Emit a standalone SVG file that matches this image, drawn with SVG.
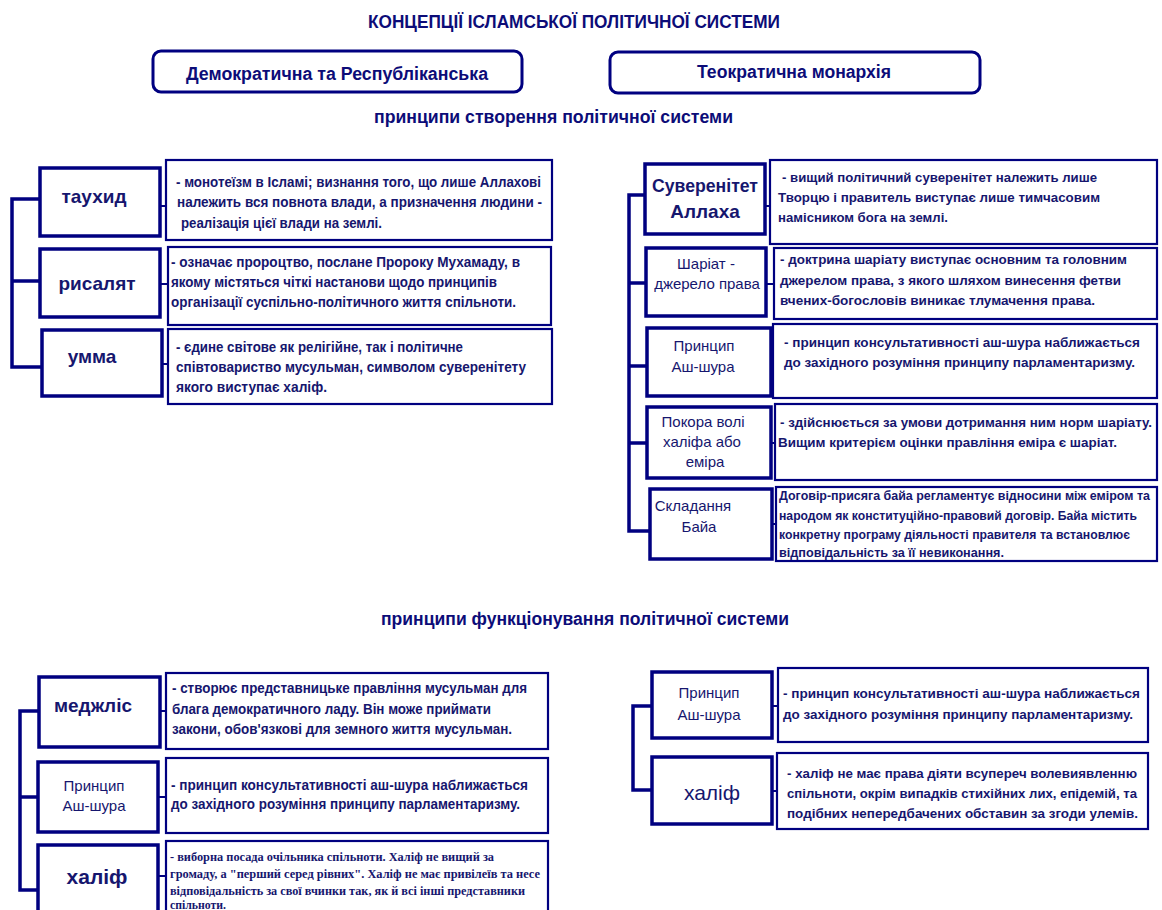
<svg xmlns="http://www.w3.org/2000/svg" width="1162" height="910" viewBox="0 0 1162 910">
<style>
text{font-family:"Liberation Sans",Arial,sans-serif;fill:#16166e;font-weight:bold}
.h{font-size:18px;fill:#0c0c78}
.lab{fill:#fff;stroke:#000080;stroke-width:3.5}
.desc{fill:#fff;stroke:#000080;stroke-width:2.2}
.top{fill:#fff;stroke:#000080;stroke-width:3}
.d{font-size:14.5px}
.dr{font-size:13.6px}
.ds{font-size:12.4px}
.dn{font-size:12px;font-family:"Liberation Serif","DejaVu Serif",serif}
.lb{font-size:19px;text-anchor:middle}
.ln{font-size:15px;font-weight:normal;text-anchor:middle}
.con{stroke:#000080;stroke-width:3.5;fill:none}
.stub{stroke:#000080;stroke-width:2;fill:none}
</style>
<rect width="1162" height="910" fill="#fff"/>

<g id="titles">
<text class="h" x="368" y="28" textLength="412" lengthAdjust="spacingAndGlyphs">КОНЦЕПЦІЇ ІСЛАМСЬКОЇ ПОЛІТИЧНОЇ СИСТЕМИ</text>
<text class="h" x="374" y="123" textLength="359" lengthAdjust="spacingAndGlyphs">принципи створення політичної системи</text>
<text class="h" x="381" y="625" textLength="408" lengthAdjust="spacingAndGlyphs">принципи функціонування політичної системи</text>
</g>

<g id="concept-democratic">
<rect class="top" x="153" y="51" width="369" height="41" rx="8"/>
<text class="h" x="186" y="80" textLength="302" lengthAdjust="spacingAndGlyphs">Демократична та Республіканська</text>
</g>
<g id="concept-theocratic">
<rect class="top" x="610" y="52" width="370" height="41" rx="8"/>
<text class="h" x="697" y="78" textLength="194" lengthAdjust="spacingAndGlyphs">Теократична монархія</text>
</g>

<g id="connectors">
<path class="con" d="M40 199H12V367H42M12 281H40"/>
<path class="con" d="M645 195H629V531H650M629 283H646M629 366H647M629 443H647"/>
<path class="con" d="M39 711H20V890H38M20 797H38"/>
<path class="con" d="M652 706H633V790H652"/>
<path class="stub" d="M160 206H166M160 284H168M162 364H168M764 206H770M766 284H774M771 362H773M771 443H775M772 524H776M160 711H166M158 797H166M158 876H166M771 706H778M771 791H777"/>
</g>

<g id="n-tauhid">
<rect class="lab" x="40" y="168" width="120" height="68"/>
<text class="lb" x="94" y="203">таухид</text>
</g>
<g id="d-tauhid">
<rect class="desc" x="166" y="160" width="386" height="80"/>
<text class="d" x="176" y="187" textLength="365" lengthAdjust="spacingAndGlyphs">- монотеїзм в Ісламі; визнання того, що лише Аллахові</text>
<text class="d" x="177" y="207" textLength="365" lengthAdjust="spacingAndGlyphs">належить вся повнота влади, а призначення людини -</text>
<text class="d" x="181" y="228" textLength="201" lengthAdjust="spacingAndGlyphs">реалізація цієї влади на землі.</text>
</g>

<g id="n-risalyat">
<rect class="lab" x="40" y="249" width="120" height="68"/>
<text class="lb" x="97" y="290">рисалят</text>
</g>
<g id="d-risalyat">
<rect class="desc" x="168" y="247" width="383" height="78"/>
<text class="d" x="171" y="267" textLength="349" lengthAdjust="spacingAndGlyphs">- означає пророцтво, послане Пророку Мухамаду, в</text>
<text class="d" x="171" y="287" textLength="326" lengthAdjust="spacingAndGlyphs">якому містяться чіткі настанови щодо принципів</text>
<text class="d" x="171" y="307" textLength="345" lengthAdjust="spacingAndGlyphs">організації суспільно-політичного життя спільноти.</text>
</g>

<g id="n-umma">
<rect class="lab" x="42" y="330" width="120" height="66"/>
<text class="lb" x="92" y="363">умма</text>
</g>
<g id="d-umma">
<rect class="desc" x="168" y="329" width="384" height="75"/>
<text class="d" x="176" y="352" textLength="287" lengthAdjust="spacingAndGlyphs">- єдине світове як релігійне, так і політичне</text>
<text class="d" x="176" y="372" textLength="350" lengthAdjust="spacingAndGlyphs">співтовариство мусульман, символом суверенітету</text>
<text class="d" x="176" y="392" textLength="151" lengthAdjust="spacingAndGlyphs">якого виступає халіф.</text>
</g>

<g id="n-sovereignty">
<rect class="lab" x="645" y="164" width="120" height="70"/>
<text class="lb" x="705" y="192" textLength="106" lengthAdjust="spacingAndGlyphs">Суверенітет</text>
<text class="lb" x="705" y="218">Аллаха</text>
</g>
<g id="d-sovereignty">
<rect class="desc" x="770" y="160" width="387" height="84"/>
<text class="dr" x="782" y="182" textLength="315" lengthAdjust="spacingAndGlyphs">- вищий політичний суверенітет належить лише</text>
<text class="dr" x="778" y="202" textLength="322" lengthAdjust="spacingAndGlyphs">Творцю і правитель виступає лише тимчасовим</text>
<text class="dr" x="778" y="222" textLength="170" lengthAdjust="spacingAndGlyphs">намісником бога на землі.</text>
</g>

<g id="n-sharia">
<rect class="lab" x="646" y="248" width="120" height="68"/>
<text class="ln" x="706" y="269">Шаріат -</text>
<text class="ln" x="707" y="289">джерело права</text>
</g>
<g id="d-sharia">
<rect class="desc" x="774" y="248" width="383" height="71"/>
<text class="dr" x="780" y="264" textLength="347" lengthAdjust="spacingAndGlyphs">- доктрина шаріату виступає основним та головним</text>
<text class="dr" x="780" y="285" textLength="341" lengthAdjust="spacingAndGlyphs">джерелом права, з якого шляхом винесення фетви</text>
<text class="dr" x="780" y="305" textLength="315" lengthAdjust="spacingAndGlyphs">вчених-богословів виникає тлумачення права.</text>
</g>

<g id="n-shura-top">
<rect class="lab" x="647" y="328" width="124" height="68"/>
<text class="ln" x="704" y="351">Принцип</text>
<text class="ln" x="703" y="372">Аш-шура</text>
</g>
<g id="d-shura-top">
<rect class="desc" x="773" y="324" width="384" height="74"/>
<text class="dr" x="784" y="347" textLength="356" lengthAdjust="spacingAndGlyphs">- принцип консультативності аш-шура наближається</text>
<text class="dr" x="784" y="367" textLength="351" lengthAdjust="spacingAndGlyphs">до західного розуміння принципу парламентаризму.</text>
</g>

<g id="n-obedience">
<rect class="lab" x="647" y="407" width="124" height="71"/>
<text class="ln" x="703" y="427">Покора волі</text>
<text class="ln" x="702" y="447">халіфа або</text>
<text class="ln" x="705" y="467">еміра</text>
</g>
<g id="d-obedience">
<rect class="desc" x="775" y="404" width="382" height="76"/>
<text class="dr" x="780" y="427" textLength="372" lengthAdjust="spacingAndGlyphs">- здійснюється за умови дотримання ним норм шаріату.</text>
<text class="dr" x="778" y="447" textLength="339" lengthAdjust="spacingAndGlyphs">Вищим критерієм оцінки правління еміра є шаріат.</text>
</g>

<g id="n-baya">
<rect class="lab" x="650" y="489" width="122" height="70"/>
<text class="ln" x="693" y="511">Складання</text>
<text class="ln" x="699" y="532">Байа</text>
</g>
<g id="d-baya">
<rect class="desc" x="776" y="487" width="381" height="74"/>
<text class="ds" x="779" y="500" textLength="371" lengthAdjust="spacingAndGlyphs">Договір-присяга байа регламентує відносини між еміром та</text>
<text class="ds" x="779" y="520" textLength="358" lengthAdjust="spacingAndGlyphs">народом як конституційно-правовий договір. Байа містить</text>
<text class="ds" x="779" y="539" textLength="351" lengthAdjust="spacingAndGlyphs">конкретну програму діяльності правителя та встановлює</text>
<text class="ds" x="779" y="557" textLength="225" lengthAdjust="spacingAndGlyphs">відповідальність за її невиконання.</text>
</g>

<g id="n-majlis">
<rect class="lab" x="39" y="677" width="121" height="70"/>
<text class="lb" x="93" y="712">меджліс</text>
</g>
<g id="d-majlis">
<rect class="desc" x="166" y="673" width="382" height="76"/>
<text class="d" x="172" y="693" textLength="355" lengthAdjust="spacingAndGlyphs">- створює представницьке правління мусульман для</text>
<text class="d" x="172" y="714" textLength="319" lengthAdjust="spacingAndGlyphs">блага демократичного ладу. Він може приймати</text>
<text class="d" x="172" y="734" textLength="340" lengthAdjust="spacingAndGlyphs">закони, обов'язкові для земного життя мусульман.</text>
</g>

<g id="n-shura-bl">
<rect class="lab" x="38" y="762" width="120" height="70"/>
<text class="ln" x="94" y="791">Принцип</text>
<text class="ln" x="94" y="811">Аш-шура</text>
</g>
<g id="d-shura-bl">
<rect class="desc" x="166" y="758" width="382" height="75"/>
<text class="d" x="171" y="790" textLength="357" lengthAdjust="spacingAndGlyphs">- принцип консультативності аш-шура наближається</text>
<text class="d" x="171" y="809" textLength="349" lengthAdjust="spacingAndGlyphs">до західного розуміння принципу парламентаризму.</text>
</g>

<g id="n-caliph-bl">
<rect class="lab" x="38" y="845" width="120" height="80"/>
<text class="lb" x="97" y="884" style="font-size:21px">халіф</text>
</g>
<g id="d-caliph-bl">
<rect class="desc" x="166" y="841" width="382" height="80"/>
<text class="dn" x="170" y="861" textLength="324" lengthAdjust="spacingAndGlyphs">- виборна посада очільника спільноти. Халіф не вищий за</text>
<text class="dn" x="170" y="878" textLength="370" lengthAdjust="spacingAndGlyphs">громаду, а "перший серед рівних". Халіф не має привілеїв та несе</text>
<text class="dn" x="170" y="895" textLength="355" lengthAdjust="spacingAndGlyphs">відповідальність за свої вчинки так, як й всі інші представники</text>
<text class="dn" x="170" y="909" textLength="56" lengthAdjust="spacingAndGlyphs">спільноти.</text>
</g>

<g id="n-shura-br">
<rect class="lab" x="652" y="672" width="120" height="66"/>
<text class="ln" x="709" y="698">Принцип</text>
<text class="ln" x="709" y="720">Аш-шура</text>
</g>
<g id="d-shura-br">
<rect class="desc" x="778" y="668" width="370" height="74"/>
<text class="dr" x="783" y="698" textLength="357" lengthAdjust="spacingAndGlyphs">- принцип консультативності аш-шура наближається</text>
<text class="dr" x="783" y="719" textLength="350" lengthAdjust="spacingAndGlyphs">до західного розуміння принципу парламентаризму.</text>
</g>

<g id="n-caliph-br">
<rect class="lab" x="652" y="757" width="120" height="67"/>
<text class="lb" x="712" y="800" style="font-size:21px;font-weight:normal">халіф</text>
</g>
<g id="d-caliph-br">
<rect class="desc" x="777" y="753" width="371" height="76"/>
<text class="dr" x="787" y="778" textLength="350" lengthAdjust="spacingAndGlyphs">- халіф не має права діяти всупереч волевиявленню</text>
<text class="dr" x="787" y="798" textLength="350" lengthAdjust="spacingAndGlyphs">спільноти, окрім випадків стихійних лих, епідемій, та</text>
<text class="dr" x="787" y="818" textLength="351" lengthAdjust="spacingAndGlyphs">подібних непередбачених обставин за згоди улемів.</text>
</g>
</svg>
